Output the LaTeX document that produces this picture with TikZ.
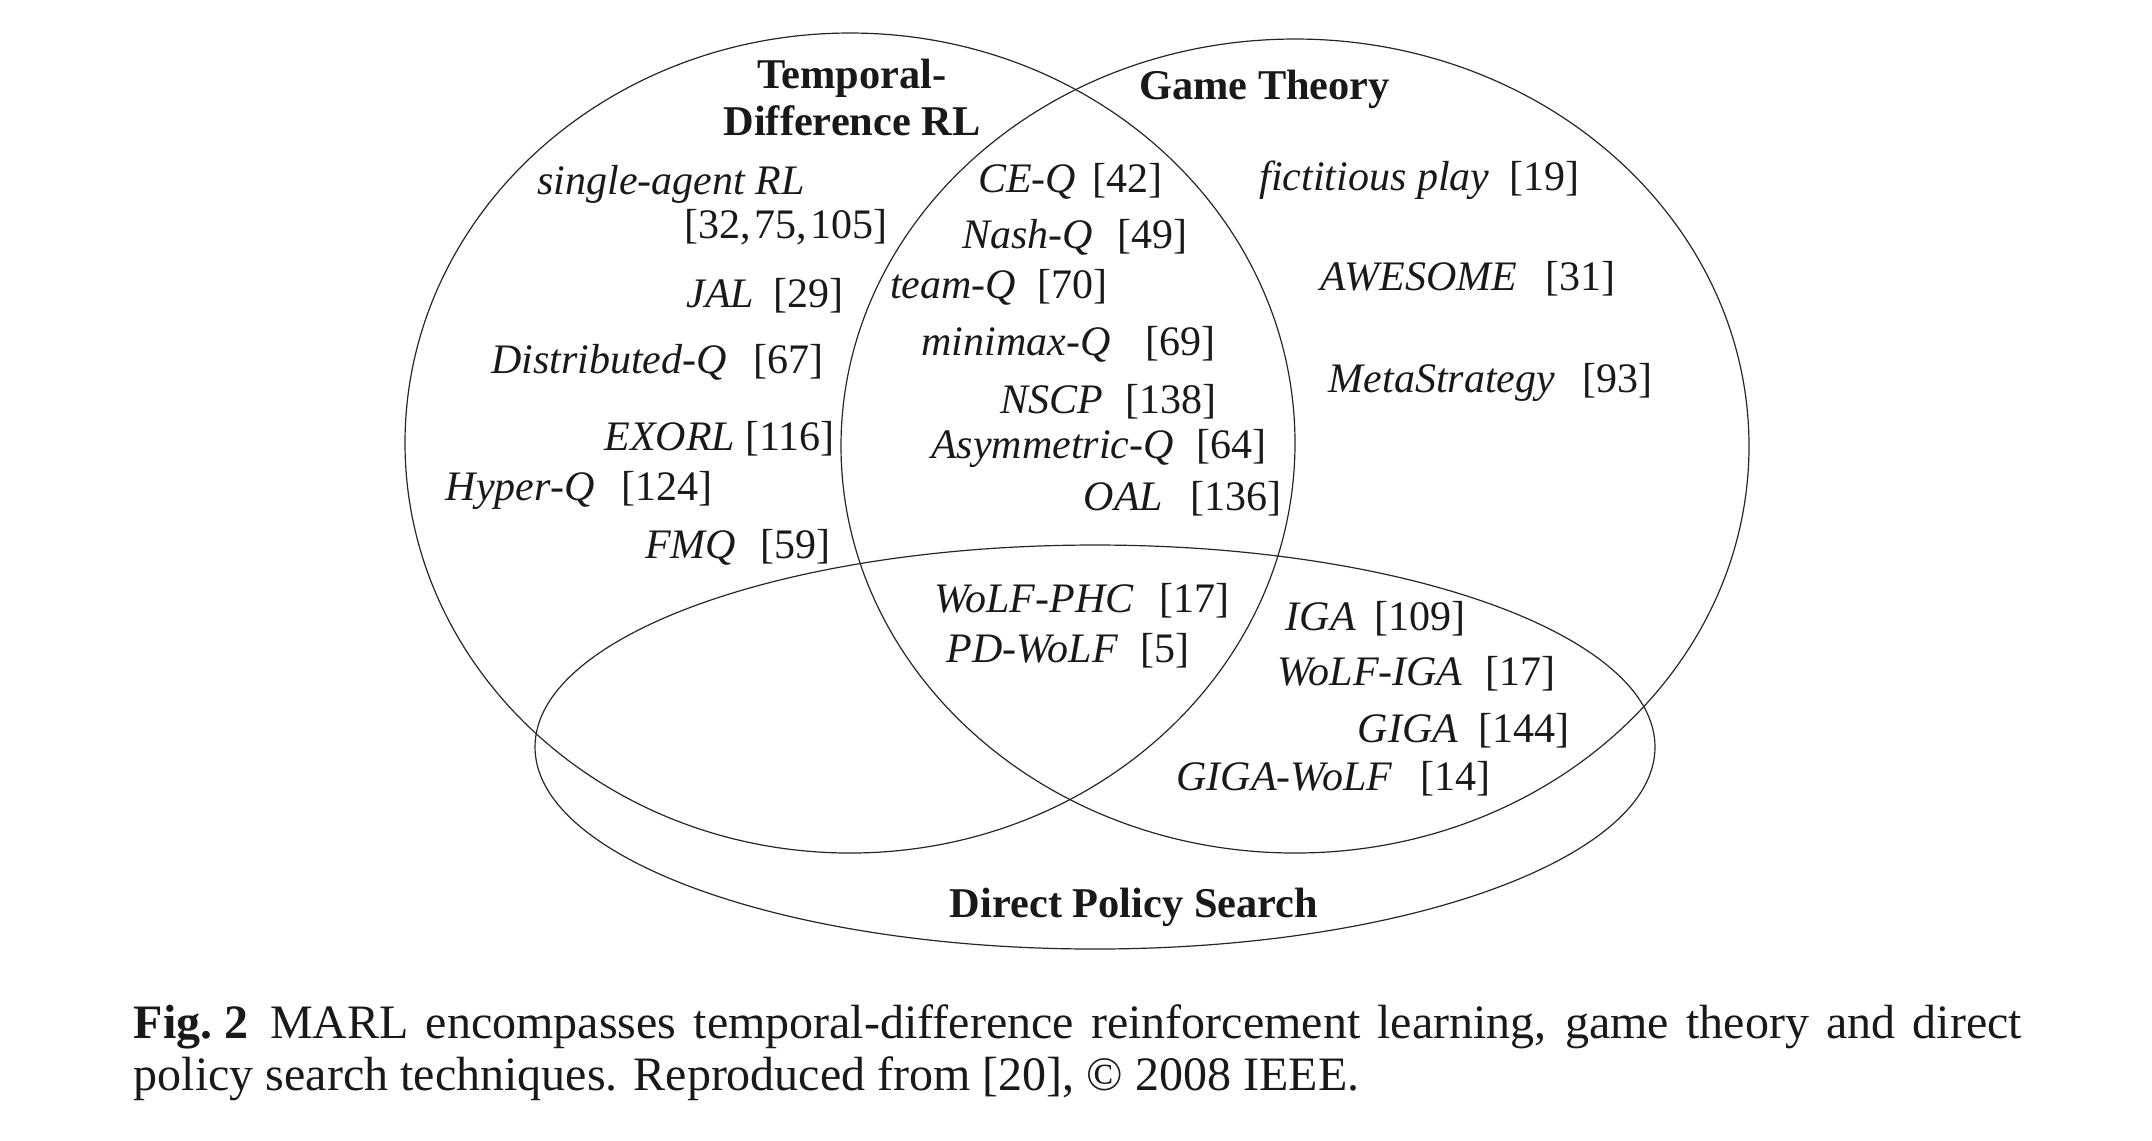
\documentclass[tikz,border=0pt]{standalone}
\usepackage{fontspec}
\setmainfont{Liberation Serif}
\newcommand{\ent}[3]{\textit{#1}\hspace{#2pt}[#3]}
\tikzset{
  lbl/.style={anchor=base, inner sep=0pt, font=\fontsize{10.5}{12}\selectfont, text=black!90},
  ttl/.style={anchor=base, inner sep=0pt, font=\fontsize{10.6}{12}\selectfont\bfseries, text=black!90},
  captext/.style={anchor=base west, inner sep=0pt, font=\fontsize{12}{13}\selectfont, text=black!90},
  venn/.style={draw=black!85, line width=0.3pt},
}
\begin{document}
\begin{tikzpicture}[x=0.25pt,y=-0.25pt]
\useasboundingbox (0,0) rectangle (2152,1140);
% sets
\draw[venn] (850,443) ellipse [x radius=111.25pt, y radius=102.5pt];
\draw[venn] (1295,446) ellipse [x radius=113.5pt, y radius=101.75pt];
\draw[venn] (1095,747) ellipse [x radius=140pt, y radius=50.5pt];
% titles
\node[ttl] (td1) at (852,88) {Temporal-};
\node[ttl] (td2) at (852,135) {Difference RL};
\node[ttl] (gt) at (1264.5,99) {Game Theory};
\node[ttl] (dps) at (1134,917) {Direct Policy Search};
% TD RL only
\node[lbl] (sarl) at (671,194) {\textit{single-agent RL}};
\node[lbl] (sarlref) at (786,238) {[32,\kern0.8pt 75,\kern0.8pt 105]};
\node[lbl] (jal) at (765,307) {\ent{JAL}{4.8}{29}};
\node[lbl] (distq) at (657.5,373) {\ent{Distributed-Q}{6.7}{67}};
\node[lbl] (exorl) at (719.5,450) {\ent{EXORL}{2.5}{116}};
\node[lbl] (hyperq) at (579,500) {\ent{Hyper-Q}{6.7}{124}};
\node[lbl] (fmq) at (738,558) {\ent{FMQ}{6.1}{59}};
% TD RL and game theory
\node[lbl] (ceq) at (1070.5,192) {\ent{CE-Q}{4.2}{42}};
\node[lbl] (nashq) at (1075,248) {\ent{Nash-Q}{6.25}{49}};
\node[lbl] (teamq) at (999,298) {\ent{team-Q}{5.4}{70}};
\node[lbl] (minimaxq) at (1068.5,355) {\ent{minimax-Q}{8.75}{69}};
\node[lbl] (nscp) at (1108.5,413) {\ent{NSCP}{5.4}{138}};
\node[lbl] (asymq) at (1099,458) {\ent{Asymmetric-Q}{5.8}{64}};
\node[lbl] (oal) at (1182.5,510) {\ent{OAL}{6.7}{136}};
% game theory only
\node[lbl] (fict) at (1419.5,190) {\ent{fictitious play}{5}{19}};
\node[lbl] (awesome) at (1468,290) {\ent{AWESOME}{7}{31}};
\node[lbl] (meta) at (1490.5,392) {\ent{MetaStrategy}{6.7}{93}};
% all three
\node[lbl] (wolfphc) at (1082,612) {\ent{WoLF-PHC}{6.4}{17}};
\node[lbl] (pdwolf) at (1068,662) {\ent{PD-WoLF}{5.5}{5}};
% game theory and direct policy search
\node[lbl] (iga) at (1375.5,630) {\ent{IGA}{4.5}{109}};
\node[lbl] (wolfiga) at (1416.5,685) {\ent{WoLF-IGA}{5.7}{17}};
\node[lbl] (giga) at (1463.5,742) {\ent{GIGA}{5}{144}};
\node[lbl] (gigawolf) at (1333.5,790) {\ent{GIGA-WoLF}{7}{14}};
% caption
\node[captext] (cap1) at (133,1038) {\makebox[472pt][s]{\mbox{\textbf{Fig.\kern3pt 2}}\hspace{0.45em}MARL encompasses temporal-difference reinforcement learning, game theory and direct}};
\node[captext] (cap2) at (133,1090) {policy search techniques. Reproduced from [20], © 2008 IEEE.};
\end{tikzpicture}
\end{document}
